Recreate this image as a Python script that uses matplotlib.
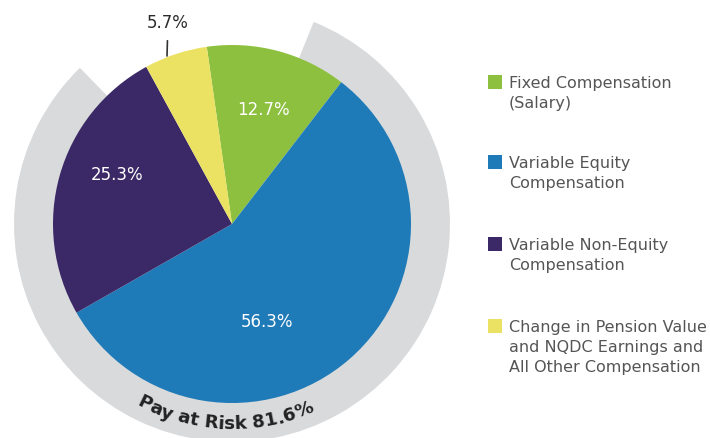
import matplotlib
matplotlib.use('Agg')
import matplotlib.pyplot as plt
from matplotlib.patches import Wedge, Rectangle
from matplotlib.textpath import TextToPath
from matplotlib.font_manager import FontProperties
import numpy as np

# data
labels = ['Fixed Compensation\n(Salary)',
          'Variable Equity\nCompensation',
          'Variable Non-Equity\nCompensation',
          'Change in Pension Value\nand NQDC Earnings and\nAll Other Compensation']
shares = [12.7, 56.3, 25.3, 5.7]
pct_text = ['12.7%', '56.3%', '25.3%', '5.7%']
colors = ['#8dc03f', '#1f7ab8', '#3b2866', '#ebe163']
at_risk = 81.6
ring_text = 'Pay at Risk 81.6%'

W, H = 710, 439
fig = plt.figure(figsize=(7.10, 4.39), dpi=100)
ax = fig.add_axes([0, 0, 1, 1])

cx, cy = 232, H - 225     # pie centre in pixels (y up)
R = 179
R_out = 218

# grey ring for pay at risk
ring_end = 68             # degrees, right hand end of the ring
ring_span = at_risk * 3.6
ax.add_patch(Wedge((cx, cy), R_out, ring_end - ring_span, ring_end,
                   width=R_out - R + 3, facecolor='#d9dadc', edgecolor='none', zorder=1))

wedges, _ = ax.pie(shares, colors=colors, startangle=98.1, counterclock=False,
                   radius=R, center=(cx, cy), wedgeprops=dict(linewidth=0))
for w in wedges:
    w.set_zorder(2)

# slice labels (pixel positions, y measured from top)
label_xy = [(263, 110), (267, 322), (117, 175)]
for (x, y), t in zip(label_xy, pct_text[:3]):
    ax.text(x, H - y, t, color='white', fontsize=12, ha='center', va='center', zorder=5)

# small yellow slice gets a leader line
ax.annotate(pct_text[3], xy=(167, H - 57), xytext=(168, H - 23),
            ha='center', va='center', fontsize=12, color='#2b2b2b',
            arrowprops=dict(arrowstyle='-', color='#333333', lw=1.2, shrinkA=5, shrinkB=0),
            zorder=5)

# curved text along the ring
prop = FontProperties(family='DejaVu Sans', weight='bold', size=13.2)
ttp = TextToPath()
px = 100 / 72
def width(s):
    if s == '':
        return 0.0
    return ttp.get_text_width_height_descent(s, prop, ismath=False)[0] * px
total = width(ring_text)
r_base = 204
theta_c = np.radians(268)
for i, ch in enumerate(ring_text):
    s = (width(ring_text[:i]) + width(ring_text[:i + 1])) / 2 - total / 2
    th = theta_c + s / r_base
    ax.text(cx + r_base * np.cos(th), cy + r_base * np.sin(th), ch,
            fontproperties=prop, color='#222222', ha='center', va='baseline',
            rotation=np.degrees(th) + 90, rotation_mode='anchor', zorder=5)

# legend
leg_y = [83, 163, 245, 327]
for y, lab, c in zip(leg_y, labels, colors):
    ax.add_patch(Rectangle((488, H - y - 7), 14, 14, facecolor=c, edgecolor='none'))
    ax.text(509, H - y + 7, lab, fontsize=11.5, color='#555555', va='top', ha='left',
            linespacing=1.4)

ax.set_xlim(0, W)
ax.set_ylim(0, H)
ax.set_aspect('equal')
ax.axis('off')

fig.savefig('out.png', dpi=100, facecolor='white')
